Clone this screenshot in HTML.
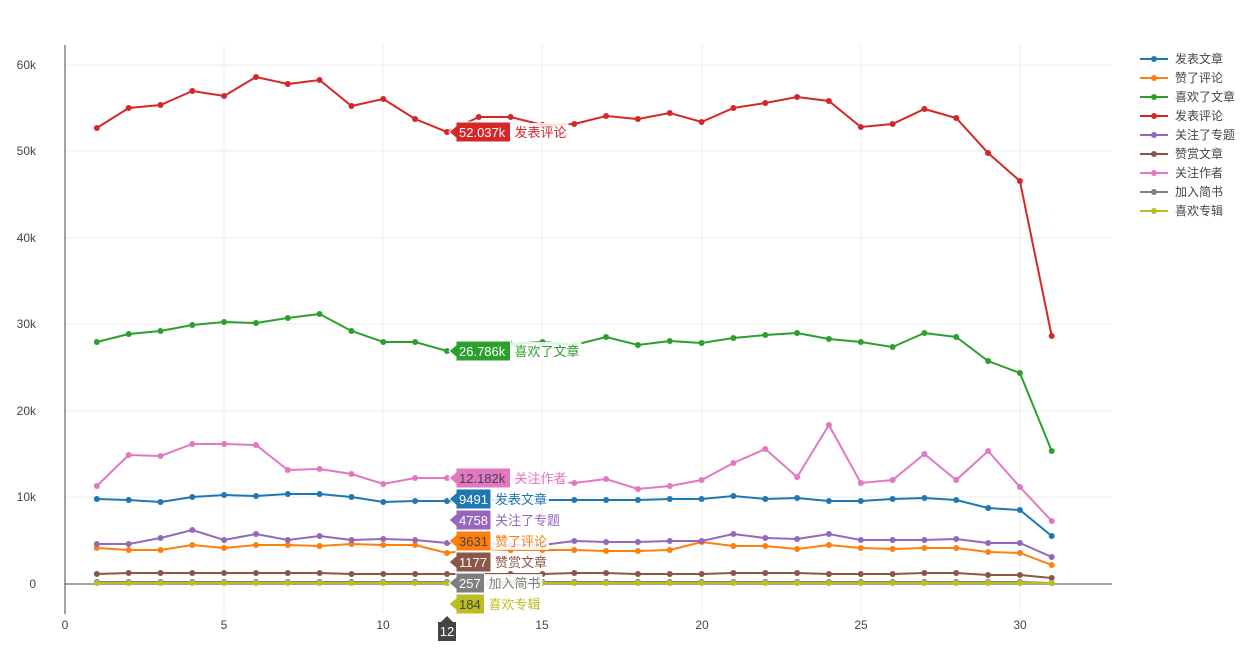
<!DOCTYPE html>
<html><head><meta charset="utf-8"><style>
body{margin:0;background:#fff;font-family:"Liberation Sans","Noto Sans CJK SC",sans-serif}
</style></head><body>
<svg id="s" width="1243" height="659" xmlns="http://www.w3.org/2000/svg" font-family="Liberation Sans, Noto Sans CJK SC, sans-serif">
<g stroke="#eee" stroke-width="1">
<line x1="224" y1="45" x2="224" y2="614"/><line x1="383" y1="45" x2="383" y2="614"/><line x1="542" y1="45" x2="542" y2="614"/><line x1="702" y1="45" x2="702" y2="614"/><line x1="861" y1="45" x2="861" y2="614"/><line x1="1020" y1="45" x2="1020" y2="614"/>
<line x1="65" y1="65" x2="1112" y2="65"/><line x1="65" y1="151" x2="1112" y2="151"/><line x1="65" y1="238" x2="1112" y2="238"/><line x1="65" y1="324" x2="1112" y2="324"/><line x1="65" y1="411" x2="1112" y2="411"/><line x1="65" y1="497" x2="1112" y2="497"/>
</g>
<line x1="65" y1="45" x2="65" y2="614" stroke="#444"/>
<line x1="65" y1="584" x2="1112" y2="584" stroke="#444"/>
<g font-size="12" fill="#444" text-anchor="end">
<text x="36" y="69">60k</text><text x="36" y="155">50k</text><text x="36" y="242">40k</text><text x="36" y="328">30k</text><text x="36" y="415">20k</text><text x="36" y="501">10k</text><text x="36" y="588">0</text>
</g>
<g font-size="12" fill="#444" text-anchor="middle">
<text x="65" y="629">0</text><text x="224" y="629">5</text><text x="383" y="629">10</text><text x="542" y="629">15</text><text x="702" y="629">20</text><text x="861" y="629">25</text><text x="1020" y="629">30</text>
</g>
<g id="series"></g>
<g id="hover"></g>
<g id="legend" font-size="12"></g>
</svg>
<script>
var S=[
["#1f77b4","发表文章",[499,500,502,497,495,496,494,494,497,502,501,501,500,500,500,500,500,500,499,499,496,499,498,501,501,499,498,500,508,510,536]],
["#ff7f0e","赞了评论",[548,550,550,545,548,545,545,546,544,545,545,553,549,550,550,550,551,551,550,542,546,546,549,545,548,549,548,548,552,553,565]],
["#2ca02c","喜欢了文章",[342,334,331,325,322,323,318,314,331,342,342,351,345,344,342,345,337,345,341,343,338,335,333,339,342,347,333,337,361,373,451]],
["#d62728","发表评论",[128,108,105,91,96,77,84,80,106,99,119,132,117,117,125,124,116,119,113,122,108,103,97,101,127,124,109,118,153,181,336]],
["#9467bd","关注了专题",[544,544,538,530,540,534,540,536,540,539,540,543,542,545,545,541,542,542,541,541,534,538,539,534,540,540,540,539,543,543,557]],
["#8c564b","赞赏文章",[574,573,573,573,573,573,573,573,574,574,574,574,574,574,574,573,573,574,574,574,573,573,573,574,574,574,573,573,575,575,578]],
["#e377c2","关注作者",[486,455,456,444,444,445,470,469,474,484,478,478,478,479,481,483,479,489,486,480,463,449,477,425,483,480,454,480,451,487,521]],
["#7f7f7f","加入简书",[582,582,582,582,582,582,582,582,582,582,582,582,582,582,582,582,582,582,582,582,582,582,582,582,582,582,582,582,582,582,583]],
["#bcbd22","喜欢专辑",[583,583,583,583,583,583,583,583,583,583,583,583,583,583,583,583,583,583,583,583,583,583,583,583,583,583,583,583,583,583,583]]];
var g=document.getElementById('series'),h='';
S.forEach(function(s){var p=s[2].map(function(y,i){return (65+31.83*(i+1)).toFixed(1)+','+y}).join(' ');
h+='<polyline points="'+p+'" fill="none" stroke="'+s[0]+'" stroke-width="2"/>';
s[2].forEach(function(y,i){h+='<circle cx="'+(65+31.83*(i+1)).toFixed(1)+'" cy="'+y+'" r="3" fill="'+s[0]+'"/>'});});
g.innerHTML=h;
var L='';S.forEach(function(s,i){var y=59+19*i;L+='<line x1="1140" y1="'+y+'" x2="1168" y2="'+y+'" stroke="'+s[0]+'" stroke-width="2"/><circle cx="1154" cy="'+y+'" r="3" fill="'+s[0]+'"/><text x="1175" y="'+(y+4)+'" fill="#444">'+s[1]+'</text>'});
document.getElementById('legend').innerHTML=L;
var H=[["#d62728","52.037k","发表评论",132,"#fff"],["#2ca02c","26.786k","喜欢了文章",351,"#fff"],["#e377c2","12.182k","关注作者",478,"#444"],["#1f77b4","9491","发表文章",499,"#fff"],["#9467bd","4758","关注了专题",520,"#fff"],["#ff7f0e","3631","赞了评论",541,"#444"],["#8c564b","1177","赞赏文章",562,"#fff"],["#7f7f7f","257","加入简书",583,"#fff"],["#bcbd22","184","喜欢专辑",604,"#444"]];
var Q='';H.forEach(function(k){var w=k[1].length*6.5+9,y=k[3];
Q+='<rect x="'+(456+w)+'" y="'+(y-9)+'" width="'+(k[2].length*13+6)+'" height="18" fill="rgba(255,255,255,0.85)"/>';
Q+='<path d="M449,'+y+' l7,-6 v-4 h'+w+' v20 h-'+w+' v-4 z" fill="'+k[0]+'" stroke="#fff" stroke-width="1"/>';
Q+='<text x="459" y="'+(y+5)+'" font-size="13" fill="'+k[4]+'">'+k[1]+'</text>';
Q+='<text x="'+(460+w)+'" y="'+(y+5)+'" font-size="13" fill="'+k[0]+'">'+k[2]+'</text>';});
Q+='<path d="M447,616 l6,6 h3 v19 h-18 v-19 h3 z" fill="#444"/><text x="447" y="636" font-size="13" fill="#fff" text-anchor="middle">12</text>';
document.getElementById('hover').innerHTML=Q;
</script>
</body></html>
